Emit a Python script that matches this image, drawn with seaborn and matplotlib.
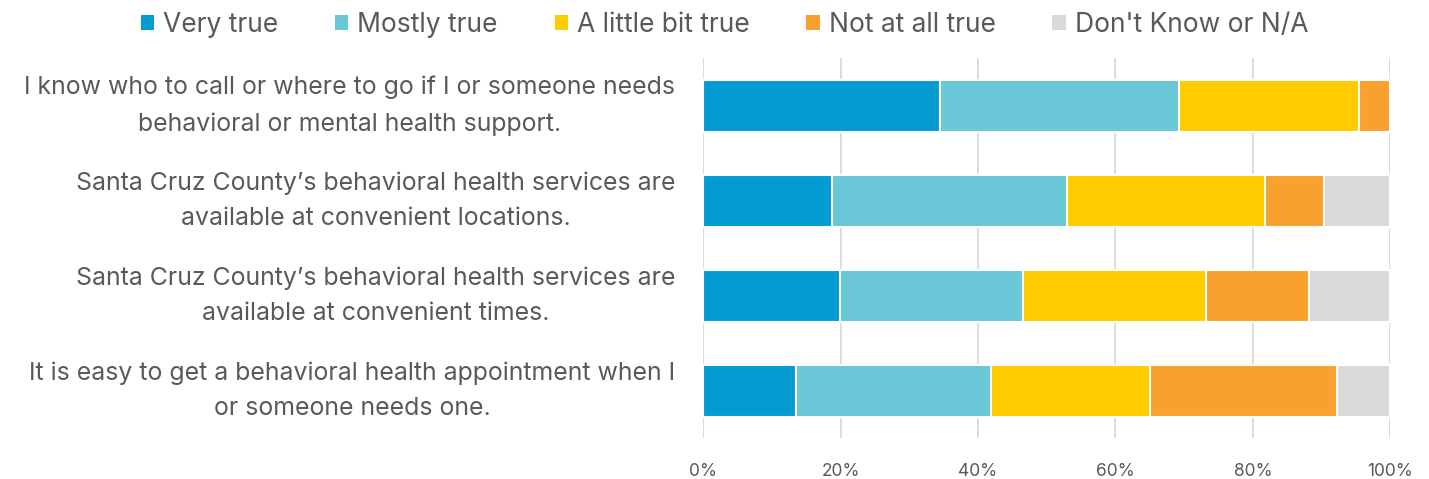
import matplotlib
matplotlib.use("Agg")
import matplotlib.pyplot as plt
import seaborn as sns
import numpy as np
import pandas as pd
from matplotlib.patches import Patch

categories = [
    "I know who to call or where to go if I or someone needs\nbehavioral or mental health support.",
    "Santa Cruz County\u2019s behavioral health services are\navailable at convenient locations.",
    "Santa Cruz County\u2019s behavioral health services are\navailable at convenient times.",
    "It is easy to get a behavioral health appointment when I\nor someone needs one.",
]
series_names = ["Very true", "Mostly true", "A little bit true", "Not at all true", "Don't Know or N/A"]
very_true = [34.4, 18.8, 19.9, 13.5]
mostly_true = [34.8, 34.1, 26.6, 28.4]
little_true = [26.3, 28.8, 26.6, 23.1]
not_true = [4.5, 8.6, 15.0, 27.3]
dont_know = [0.0, 9.7, 11.9, 7.7]
colors = ["#049BD2", "#69C7D8", "#FFCC00", "#F9A12F", "#D9D9D9"]
xticks = [0, 20, 40, 60, 80, 100]

sns.set_theme(style="white")
plt.rcParams['font.family'] = ['Inter', 'DejaVu Sans']
text_color = "#595959"

fig = plt.figure(figsize=(14.29, 4.79), dpi=100)
ax = fig.add_axes([0.492, 0.085, 0.481, 0.793])

vals = np.array([very_true, mostly_true, little_true, not_true, dont_know])
cum = np.cumsum(vals, axis=0)

for i in range(len(series_names) - 1, -1, -1):
    df = pd.DataFrame({"cat": categories, "val": cum[i]})
    sns.barplot(data=df, x="val", y="cat", orient="h", color=colors[i],
                saturation=1, width=0.55, edgecolor="white", linewidth=1.5,
                ax=ax, zorder=3)

ax.set_xlim(0, 100)
ax.set_ylim(3.5, -0.5)
ax.set_xticks(xticks)
ax.set_xticklabels([f"{t}%" for t in xticks])
ax.grid(axis="x", color="#D9D9D9", linewidth=1.3, zorder=0)
ax.grid(axis="y", visible=False)
for s in ax.spines.values():
    s.set_visible(False)
ax.set_xlabel("")
ax.set_ylabel("")
ax.tick_params(axis="x", length=0, pad=18, labelsize=12.5, labelcolor=text_color)
ax.tick_params(axis="y", length=0, pad=20, labelsize=17.9, labelcolor=text_color)
for t in ax.get_yticklabels():
    t.set_multialignment("center")
    t.set_linespacing(1.7)
    t.set_verticalalignment("center")

leg_handles = [Patch(facecolor=colors[i], edgecolor="none") for i in range(len(series_names))]
fig.legend(leg_handles, series_names, loc="center", bbox_to_anchor=(0.507, 0.948),
           ncol=5, frameon=False, fontsize=19, labelcolor=text_color,
           handlelength=0.5, handleheight=0.5, handletextpad=0.35, columnspacing=2.15)

fig.savefig("out.png", dpi=100)
